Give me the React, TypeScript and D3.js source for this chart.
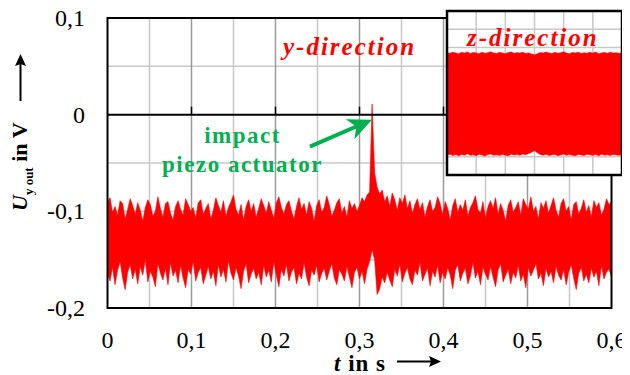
import React from 'react';
import * as d3 from 'd3';

// sample step of the read-off envelopes (s)
const sampleStep = 0.003;

// upper / lower envelope of the y-direction signal (V)
const upperY = [
  -0.090, -0.086, -0.101, -0.095, -0.104, -0.089, -0.092, -0.108, -0.098, -0.087,
  -0.094, -0.103, -0.091, -0.099, -0.110, -0.096, -0.088, -0.093, -0.105, -0.100,
  -0.085, -0.097, -0.106, -0.092, -0.090, -0.102, -0.109, -0.095, -0.089, -0.098,
  -0.104, -0.087, -0.093, -0.100, -0.096, -0.107, -0.091, -0.088, -0.103, -0.097,
  -0.092, -0.108, -0.099, -0.086, -0.094, -0.101, -0.089, -0.105, -0.096, -0.090,
  -0.083, -0.098, -0.104, -0.093, -0.109, -0.095, -0.088, -0.100, -0.092, -0.106,
  -0.097, -0.087, -0.094, -0.102, -0.090, -0.099, -0.107, -0.091, -0.085, -0.096,
  -0.103, -0.093, -0.089, -0.100, -0.108, -0.095, -0.086, -0.098, -0.092, -0.104,
  -0.090, -0.097, -0.110, -0.094, -0.088, -0.101, -0.096, -0.084, -0.093, -0.105,
  -0.099, -0.091, -0.087, -0.102, -0.095, -0.106, -0.089, -0.097, -0.092, -0.100,
  -0.094, -0.086, -0.090, -0.083, -0.080, 0.011, -0.060, -0.075, -0.082, -0.078,
  -0.090, -0.084, -0.095, -0.081, -0.088, -0.099, -0.086, -0.092, -0.083, -0.097,
  -0.089, -0.102, -0.093, -0.087, -0.098, -0.091, -0.106, -0.095, -0.088, -0.100,
  -0.096, -0.085, -0.092, -0.104, -0.090, -0.097, -0.109, -0.094, -0.087, -0.101,
  -0.093, -0.099, -0.088, -0.105, -0.096, -0.091, -0.084, -0.098, -0.102, -0.090,
  -0.107, -0.095, -0.089, -0.097, -0.086, -0.103, -0.092, -0.099, -0.110, -0.094,
  -0.088, -0.101, -0.096, -0.090, -0.104, -0.087, -0.093, -0.098, -0.085, -0.100,
  -0.095, -0.108, -0.091, -0.097, -0.089, -0.102, -0.094, -0.086, -0.099, -0.106,
  -0.092, -0.087, -0.100, -0.095, -0.109, -0.093, -0.090, -0.103, -0.097, -0.088,
  -0.101, -0.094, -0.106, -0.089, -0.096, -0.091, -0.104, -0.098, -0.087, -0.093,
  -0.090,
];
const lowerY = [
  -0.165, -0.172, -0.158, -0.176, -0.161, -0.152, -0.169, -0.181, -0.163, -0.155,
  -0.170, -0.160, -0.175, -0.157, -0.166, -0.150, -0.173, -0.162, -0.168, -0.178,
  -0.154, -0.164, -0.171, -0.159, -0.176, -0.153, -0.167, -0.161, -0.174, -0.156,
  -0.169, -0.179, -0.160, -0.165, -0.152, -0.172, -0.163, -0.158, -0.175, -0.166,
  -0.157, -0.170, -0.162, -0.177, -0.155, -0.168, -0.160, -0.173, -0.151, -0.164,
  -0.171, -0.158, -0.167, -0.180, -0.162, -0.154, -0.174, -0.165, -0.159, -0.170,
  -0.163, -0.176, -0.156, -0.168, -0.161, -0.173, -0.152, -0.166, -0.178, -0.160,
  -0.167, -0.155, -0.172, -0.163, -0.158, -0.175, -0.164, -0.170, -0.153, -0.168,
  -0.177, -0.161, -0.166, -0.156, -0.173, -0.164, -0.159, -0.171, -0.162, -0.154,
  -0.169, -0.176, -0.160, -0.165, -0.172, -0.157, -0.168, -0.179, -0.163, -0.158,
  -0.170, -0.162, -0.175, -0.160, -0.152, -0.140, -0.150, -0.186, -0.180, -0.168,
  -0.174, -0.163, -0.171, -0.178, -0.160, -0.167, -0.155, -0.173, -0.164, -0.158,
  -0.170, -0.176, -0.161, -0.166, -0.153, -0.172, -0.165, -0.159, -0.177, -0.162,
  -0.168, -0.156, -0.174, -0.163, -0.170, -0.158, -0.166, -0.180, -0.161, -0.155,
  -0.172, -0.164, -0.159, -0.175, -0.167, -0.153, -0.169, -0.162, -0.176, -0.158,
  -0.165, -0.171, -0.157, -0.168, -0.178, -0.161, -0.154, -0.173, -0.166, -0.160,
  -0.175, -0.163, -0.169, -0.156, -0.172, -0.165, -0.179, -0.158, -0.167, -0.161,
  -0.154, -0.170, -0.164, -0.177, -0.159, -0.168, -0.162, -0.174, -0.157, -0.166,
  -0.171, -0.160, -0.176, -0.163, -0.155, -0.169, -0.181, -0.164, -0.158, -0.172,
  -0.165, -0.174, -0.159, -0.168, -0.162, -0.177, -0.156, -0.170, -0.163, -0.160,
  -0.168,
];

// inset (z-direction) envelopes, arbitrary units
const zStep = 0.01;
const upperZ = [
  0.171, 0.168, 0.174, 0.170, 0.166, 0.173, 0.169, 0.175, 0.167, 0.172,
  0.170, 0.165, 0.174, 0.168, 0.171, 0.176, 0.169, 0.167, 0.173, 0.170,
  0.166, 0.172, 0.175, 0.168, 0.171, 0.169, 0.174, 0.167, 0.170, 0.164,
  0.160, 0.166, 0.172, 0.169, 0.175, 0.170, 0.167, 0.173, 0.168, 0.171,
  0.176, 0.169, 0.166, 0.172, 0.170, 0.174, 0.167, 0.171, 0.168, 0.173,
  0.169, 0.175, 0.166, 0.170, 0.172, 0.168, 0.174, 0.169, 0.171, 0.167,
  0.172,
];
const lowerZ = [
  -0.390, -0.386, -0.393, -0.388, -0.395, -0.387, -0.391, -0.384, -0.392, -0.389,
  -0.394, -0.386, -0.390, -0.396, -0.388, -0.385, -0.392, -0.389, -0.393, -0.387,
  -0.391, -0.394, -0.386, -0.390, -0.388, -0.392, -0.385, -0.389, -0.382, -0.375,
  -0.366, -0.378, -0.388, -0.391, -0.386, -0.393, -0.389, -0.387, -0.394, -0.390,
  -0.385, -0.392, -0.388, -0.391, -0.395, -0.387, -0.390, -0.393, -0.386, -0.389,
  -0.392, -0.388, -0.394, -0.386, -0.391, -0.389, -0.393, -0.387, -0.390, -0.392,
  -0.388,
];

const xTicks = [0, 0.1, 0.2, 0.3, 0.4, 0.5, 0.6];
const xTickLabels = ['0', '0,1', '0,2', '0,3', '0,4', '0,5', '0,6'];
const yTicks = [0.1, 0, -0.1, -0.2];
const yTickLabels = ['0,1', '0', '-0,1', '-0,2'];
const xGrid = [0.05, 0.1, 0.15, 0.2, 0.25, 0.3, 0.35, 0.4, 0.45, 0.5, 0.55];
const yGrid = [-0.15, -0.1, -0.05, 0.05];
const zGridX = [0.1, 0.2, 0.3, 0.4, 0.5];
const zGridY = [-0.4, -0.3, -0.2, -0.1, 0, 0.1, 0.2, 0.3];

// annotation arrow (data coords): tail -> tip at the impact spike
const impactArrow = { t0: 0.241, v0: -0.033, t1: 0.3149, v1: -0.0052 };

const RED = '#ff0000';
const GREEN = '#00b050';
const FONT = '"Liberation Serif"';

export default function App() {
  const W = 630;
  const H = 375;

  const x = d3.scaleLinear().domain([0, 0.6]).range([107.5, 611.5]);
  const y = d3.scaleLinear().domain([-0.2, 0.1]).range([308, 18]);

  const ix = d3.scaleLinear().domain([0, 0.6]).range([447, 622]);
  const iy = d3.scaleLinear().domain([-0.5, 0.4]).range([175, 11]);

  const band = d3.area<number>()
    .x((_, i) => x(i * sampleStep))
    .y0((_, i) => y(lowerY[i]))
    .y1(d => y(d))
    .curve(d3.curveLinear);

  const zBand = d3.area<number>()
    .x((_, i) => ix(i * zStep))
    .y0((_, i) => iy(lowerZ[i]))
    .y1(d => iy(d))
    .curve(d3.curveLinear);

  // arrow geometry
  const ax0 = x(impactArrow.t0), ay0 = y(impactArrow.v0);
  const ax1 = x(impactArrow.t1), ay1 = y(impactArrow.v1);
  const ang = Math.atan2(ay1 - ay0, ax1 - ax0) * 180 / Math.PI;
  const len = Math.hypot(ax1 - ax0, ay1 - ay0);

  const [x0, x1] = x.range();
  const [yb, yt] = y.range();

  return (
    <div style={{ marginLeft: -8, marginTop: -8, width: W, height: H }}>
      <svg width={W} height={H}>
        {/* grid */}
        {yGrid.map(v => (
          <line key={'hg' + v} x1={x0} x2={x1} y1={y(v)} y2={y(v)} stroke="#c8c8c8" strokeWidth={1.5} />
        ))}
        {xGrid.map((t, i) => (
          <line key={'vg' + t} x1={x(t)} x2={x(t)} y1={yt} y2={yb}
            stroke={i % 2 === 1 ? '#9a9a9a' : '#c8c8c8'} strokeWidth={1.5} />
        ))}

        {/* signal */}
        <path d={band(upperY) || ''} fill={RED} stroke={RED} strokeWidth={0.6} />

        {/* zero line + small ticks */}
        <line x1={x0} x2={x1} y1={y(0)} y2={y(0)} stroke="#000" strokeWidth={2} />
        {xTicks.slice(1, -1).map(t => (
          <line key={'zt' + t} x1={x(t)} x2={x(t)} y1={y(0) - 8} y2={y(0)} stroke="#000" strokeWidth={1.5} />
        ))}

        {/* frame */}
        <rect x={x0} y={yt} width={x1 - x0} height={yb - yt} fill="none" stroke="#000" strokeWidth={2} />

        {/* tick labels */}
        {xTicks.map((t, i) => (
          <text key={'xl' + t} x={x(t)} y={348} textAnchor="middle"
            style={{ fontFamily: FONT, fontSize: 24 }}>
            {xTickLabels[i]}
          </text>
        ))}
        {yTicks.map((v, i) => (
          <text key={'yl' + v} x={85} y={y(v) + 8} textAnchor="end"
            style={{ fontFamily: FONT, fontSize: 24 }}>
            {yTickLabels[i]}
          </text>
        ))}

        {/* x title */}
        <text x={334} y={371} style={{ fontFamily: FONT, fontWeight: 700, fontSize: 23, letterSpacing: 1 }}>
          <tspan style={{ fontStyle: 'italic' }}>t</tspan> in s
        </text>
        <line x1={397} x2={432} y1={361.5} y2={361.5} stroke="#000" strokeWidth={2} />
        <path d="M441,361.5 L429,356 L431,361.5 L429,367 Z" fill="#000" />

        {/* y title */}
        <text transform="translate(27,211) rotate(-90)" style={{ fontFamily: FONT, fontWeight: 700, fontSize: 22 }}>
          <tspan style={{ fontStyle: 'italic' }}>U</tspan>
          <tspan style={{ fontSize: 13 }} dy={6}>y out</tspan>
          <tspan dy={-6}> in V</tspan>
        </text>
        <line x1={20.5} x2={20.5} y1={101} y2={64} stroke="#000" strokeWidth={2} />
        <path d="M20.5,54 L15,66 L20.5,64 L26,66 Z" fill="#000" />

        {/* y-direction label */}
        <text x={283} y={55} fill={RED}
          style={{ fontFamily: FONT, fontWeight: 700, fontStyle: 'italic', fontSize: 25, letterSpacing: 2 }}>
          y-direction
        </text>

        {/* annotation */}
        <text x={242.5} y={143} textAnchor="middle" fill={GREEN}
          style={{ fontFamily: FONT, fontWeight: 700, fontSize: 23, letterSpacing: 1.5 }}>impact</text>
        <text x={242.5} y={172} textAnchor="middle" fill={GREEN}
          style={{ fontFamily: FONT, fontWeight: 700, fontSize: 23, letterSpacing: 1.5 }}>piezo actuator</text>
        <g transform={`translate(${ax0},${ay0}) rotate(${ang})`}>
          <line x1={0} y1={0} x2={len - 14} y2={0} stroke={GREEN} strokeWidth={4} />
          <path d={`M${len},0 L${len - 24},-11 L${len - 17},0 L${len - 24},11 Z`} fill={GREEN} />
        </g>

        {/* inset */}
        <rect x={ix(0)} y={iy(0.4)} width={ix(0.6) - ix(0)} height={iy(-0.5) - iy(0.4)} fill="#fff" />
        {zGridX.map(t => (
          <line key={'zx' + t} x1={ix(t)} x2={ix(t)} y1={iy(0.4)} y2={iy(-0.5)} stroke="#c8c8c8" strokeWidth={1.5} />
        ))}
        {zGridY.map(v => (
          <line key={'zy' + v} x1={ix(0)} x2={ix(0.6)} y1={iy(v)} y2={iy(v)} stroke="#c8c8c8" strokeWidth={1.5} />
        ))}
        <path d={zBand(upperZ) || ''} fill={RED} stroke={RED} strokeWidth={0.6} />
        <rect x={ix(0)} y={iy(0.4)} width={ix(0.6) - ix(0)} height={iy(-0.5) - iy(0.4)}
          fill="none" stroke="#000" strokeWidth={2.5} />
        <text x={467} y={46} fill={RED}
          style={{ fontFamily: FONT, fontWeight: 700, fontStyle: 'italic', fontSize: 25, letterSpacing: 2 }}>
          z-direction
        </text>
      </svg>
    </div>
  );
}
